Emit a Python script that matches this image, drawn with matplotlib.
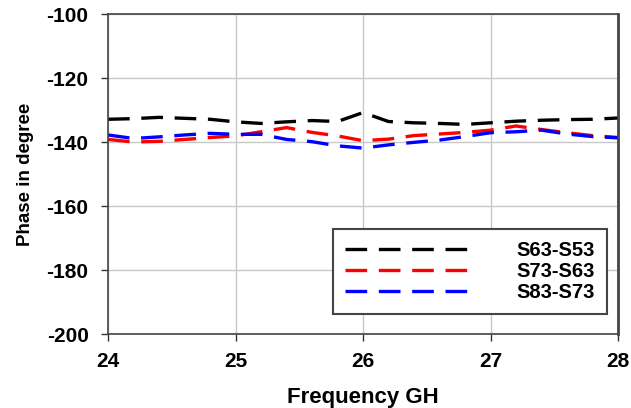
import matplotlib
matplotlib.use('Agg')
import matplotlib.pyplot as plt

plt.rcParams['font.family'] = ['Liberation Sans', 'DejaVu Sans']
plt.rcParams['font.weight'] = 'bold'
plt.rcParams['axes.unicode_minus'] = False

# frequency points (GHz)
freq = [24.0, 24.2, 24.4, 24.6, 24.8, 25.0, 25.2, 25.4, 25.6, 25.8, 26.0,
        26.2, 26.4, 26.6, 26.8, 27.0, 27.2, 27.4, 27.6, 27.8, 28.0]

# phase differences (degree)
s63_s53 = [-132.9, -132.7, -132.3, -132.6, -132.9, -133.7, -134.2, -133.7, -133.3, -133.6, -130.8,
           -133.6, -134.0, -134.2, -134.5, -134.0, -133.5, -133.2, -133.0, -132.9, -132.5]
s73_s63 = [-139.2, -140.0, -139.8, -139.2, -138.6, -138.1, -136.8, -135.5, -137.0, -138.1, -139.6,
           -139.1, -138.0, -137.5, -137.0, -136.3, -135.0, -136.1, -137.1, -138.0, -138.6]
s83_s73 = [-137.8, -138.9, -138.4, -137.8, -137.3, -137.6, -137.6, -139.2, -139.9, -141.2, -141.9,
           -140.9, -140.1, -139.4, -138.3, -137.1, -136.8, -136.3, -137.5, -138.3, -138.7]

labels = ['S63-S53', 'S73-S63', 'S83-S73']
colors = ['black', 'red', 'blue']

fig = plt.figure(figsize=(6.31, 4.08), dpi=100)
ax = fig.add_axes([108/631, 1 - 334/408, 510/631, 320/408])

for y, lab, c in zip([s63_s53, s73_s63, s83_s73], labels, colors):
    ax.plot(freq, y, color=c, lw=2.4, dashes=(6.5, 3.5), label=lab)

ax.set_xlim(24, 28)
ax.set_ylim(-200, -100)
ax.set_xticks([24, 25, 26, 27, 28])
ax.set_yticks(range(-200, -99, 20))
ax.grid(True, color='#c8c8c8', lw=1)
ax.set_axisbelow(True)
ax.tick_params(labelsize=15, length=5, width=1, color='#333333')
ax.tick_params(axis='x', pad=8)
ax.tick_params(axis='y', pad=9)
for s in ax.spines.values():
    s.set_color('#444444')
    s.set_linewidth(1.2)
ax.spines['right'].set_linewidth(2)

ax.set_xlabel('Frequency GH', fontsize=16, fontweight='bold')
ax.xaxis.set_label_coords(0.5, -0.165)
ax.set_ylabel('Phase in degree', fontsize=13.5, fontweight='bold')
ax.yaxis.set_label_coords(-0.145, 0.5)

leg = ax.legend(loc='lower right', bbox_to_anchor=(0.978, 0.0625), borderaxespad=0,
                fontsize=14.5, handlelength=6.5, handletextpad=2.0, labelspacing=0.1,
                fancybox=False, framealpha=1, edgecolor='#444444',
                borderpad=0.6)
leg.get_frame().set_linewidth(1.5)

fig.savefig('out.png', dpi=100)
